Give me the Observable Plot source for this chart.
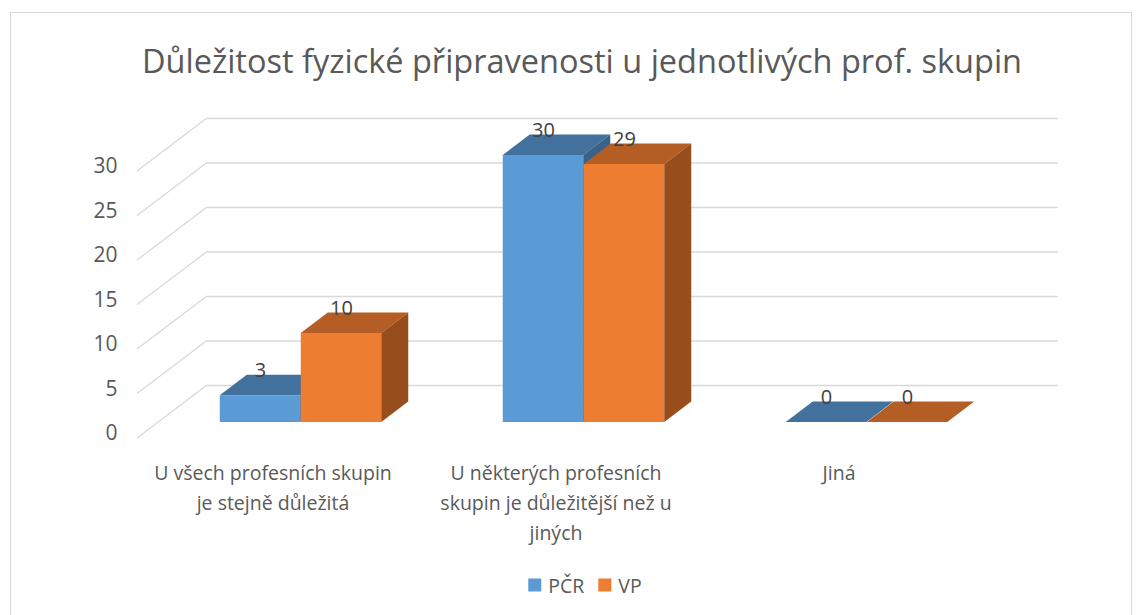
<!DOCTYPE html>
<html>
<head>
<meta charset="utf-8">
<script src="https://cdn.jsdelivr.net/npm/d3@7"></script>
<script src="https://cdn.jsdelivr.net/npm/@observablehq/plot@0.6"></script>
<style>
  html, body { margin: 0; padding: 0; background: #fff; }
  #wrap { position: relative; width: 1143px; height: 615px; overflow: hidden; font-family: "Open Sans", sans-serif; }
  #border { position: absolute; left: 10px; top: 12px; width: 1122px; height: 640px; border: 1px solid #d9d9d9; box-sizing: border-box; }
  #title { position: absolute; left: 582px; top: 60px; transform: translate(-50%, -50%); white-space: nowrap; font-size: 32.5px; color: #595959; }
  #chart { position: absolute; left: 0; top: 0; }
  #legend { position: absolute; left: 585px; top: 585px; transform: translate(-50%, -50%); display: flex; align-items: center; white-space: nowrap; font-size: 19.5px; color: #595959; }
  #legend .sw { display: inline-block; width: 13px; height: 13px; margin-right: 7px; }
  #legend .item { display: flex; align-items: center; margin: 0 7px; }
</style>
</head>
<body>
<div id="wrap">
  <div id="border"></div>
  <div id="chart"></div>
  <div id="title"></div>
  <div id="legend"></div>
</div>
<script>
// ---- data ----
const titleText = "Důležitost fyzické připravenosti u jednotlivých prof. skupin";
const categories = [
  "U všech profesních skupin je stejně důležitá",
  "U některých profesních skupin je důležitější než u jiných",
  "Jiná"
];
const categoryLabels = [
  "U všech profesních skupin\nje stejně důležitá",
  "U některých profesních\nskupin je důležitější než u\njiných",
  "Jiná"
];
const seriesNames = ["PČR", "VP"];
const pcrValues = [3, 30, 0];
const vpValues = [10, 29, 0];
const yTicks = [0, 5, 10, 15, 20, 25, 30];

// ---- styling ----
const front = {"PČR": "#5b9bd5", "VP": "#ed7d31"};
const topC = {"PČR": "#41719c", "VP": "#b45d24"};
const sideC = {"PČR": "#386289", "VP": "#974e1c"};
const textColor = "#595959";
const DX = 27, DY = -20.5;            // bar depth (px)
const WFX = -21, WFY = 16;            // wall front edge offset from bar plane
const WBX = 49, WBY = -37;            // wall back edge offset from bar plane

const rows = [];
categories.forEach((c, i) => {
  rows.push({category: c, series: "PČR", value: pcrValues[i]});
  rows.push({category: c, series: "VP", value: vpValues[i]});
});

document.getElementById("title").textContent = titleText;
const legend = document.getElementById("legend");
seriesNames.forEach(s => {
  const it = document.createElement("span");
  it.className = "item";
  it.innerHTML = `<span class="sw" style="background:${front[s]}"></span><span>${s}</span>`;
  legend.appendChild(it);
});

const NS = "http://www.w3.org/2000/svg";
function poly(g, pts, fill) {
  const p = document.createElementNS(NS, "polygon");
  p.setAttribute("points", pts.map(d => d.join(",")).join(" "));
  p.setAttribute("fill", fill);
  g.appendChild(p);
}
function faces(series) {
  return function(index, scales, values, dimensions, context, next) {
    const g = next(index, scales, values, dimensions, context);
    const rects = Array.from(g.querySelectorAll("rect"));
    for (const r of rects) {
      const x = +r.getAttribute("x"), y = +r.getAttribute("y");
      const w = +r.getAttribute("width"), h = +(r.getAttribute("height") || 0);
      poly(g, [[x, y], [x + w, y], [x + w + DX, y + DY], [x + DX, y + DY]], topC[series]);
      poly(g, [[x + w, y], [x + w + DX, y + DY], [x + w + DX, y + h + DY], [x + w, y + h]], sideC[series]);
    }
    return g;
  };
}

const gridColor = "#d9d9d9";
const half = 40.5;

const plot = Plot.plot({
  width: 1143,
  height: 550,
  marginLeft: 158,
  marginRight: 134.25,
  marginTop: 155,
  marginBottom: 128,
  style: {fontFamily: "Open Sans, sans-serif", background: "transparent", overflow: "visible"},
  x: {type: "band", domain: categories, padding: 0, axis: null},
  y: {domain: [0, 30], axis: null},
  marks: [
    // back wall gridlines
    Plot.ruleY(yTicks, {y: d => d, stroke: gridColor, strokeWidth: 1.3, dx: WBX, dy: WBY}),
    // side wall diagonals
    Plot.ruleY(yTicks, {
      y: d => d,
      stroke: gridColor,
      render: (index, scales, values, dimensions) => {
        const g = document.createElementNS(NS, "g");
        const x0 = dimensions.marginLeft;
        for (const i of index) {
          const yy = values.y[i];
          const l = document.createElementNS(NS, "line");
          l.setAttribute("x1", x0 + WFX); l.setAttribute("y1", yy + WFY);
          l.setAttribute("x2", x0 + WBX); l.setAttribute("y2", yy + WBY);
          l.setAttribute("stroke", gridColor); l.setAttribute("stroke-width", 1.3);
          g.appendChild(l);
        }
        return g;
      }
    }),
    // bars
    Plot.barY(rows.filter(d => d.series === "PČR"), {
      x: "category", y: "value", fill: front["PČR"],
      insetLeft: 141.75 - 2 * half, insetRight: 141.75,
      render: faces("PČR")
    }),
    Plot.barY(rows.filter(d => d.series === "VP"), {
      x: "category", y: "value", fill: front["VP"],
      insetLeft: 141.75, insetRight: 141.75 - 2 * half,
      render: faces("VP")
    }),
    // data labels
    Plot.text(rows.filter(d => d.series === "PČR"), {
      x: "category", y: "value", text: d => String(d.value),
      dx: -half, dy: -25, fill: "#404040", fontSize: 20
    }),
    Plot.text(rows.filter(d => d.series === "VP"), {
      x: "category", y: "value", text: d => String(d.value),
      dx: half, dy: -25, fill: "#404040", fontSize: 20
    }),
    // y tick labels
    Plot.text(yTicks, {
      y: d => d, text: d => String(d), frameAnchor: "left",
      textAnchor: "end", dx: -41, dy: 11, fill: textColor, fontSize: 21
    }),
    // category labels
    Plot.text(categories, {
      x: d => d, text: (d, i) => categoryLabels[i], frameAnchor: "bottom",
      lineAnchor: "top", dx: -28, dy: 36, fill: textColor, fontSize: 19.5, lineHeight: 1.55
    })
  ]
});
document.getElementById("chart").appendChild(plot);
</script>
</body>
</html>
